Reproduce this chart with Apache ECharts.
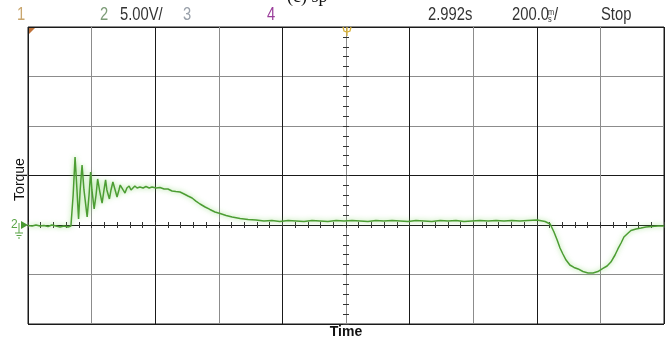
<!DOCTYPE html>
<html>
<head>
<meta charset="utf-8">
<script src="https://cdn.jsdelivr.net/npm/echarts@6/dist/echarts.min.js"></script>
<style>
html,body{margin:0;padding:0;background:#fff;}
#chart{width:672px;height:340px;}
</style>
</head>
<body>
<div id="chart"></div>
<script>
// ---- data (time in s relative to screen centre, torque channel in V) ----
const timeSec = [
  -1.000,-0.987,-0.975,-0.962,-0.950,-0.937,-0.925,-0.912,-0.899,-0.887,-0.874,-0.865,
  -0.858,-0.852,-0.846,-0.841,-0.836,-0.830,-0.824,-0.814,-0.808,-0.803,-0.799,-0.792,
  -0.786,-0.781,-0.774,-0.767,-0.761,-0.756,-0.752,-0.744,-0.739,-0.733,-0.726,-0.720,
  -0.714,-0.710,-0.701,-0.695,-0.689,-0.682,-0.676,-0.670,-0.664,-0.657,-0.648,-0.638,
  -0.629,-0.619,-0.610,-0.597,-0.585,-0.572,-0.560,-0.547,-0.535,-0.522,-0.509,-0.497,
  -0.484,-0.472,-0.459,-0.443,-0.428,-0.412,-0.396,-0.377,-0.358,-0.333,-0.308,-0.283,
  -0.258,-0.233,-0.208,-0.182,-0.157,-0.132,-0.107,-0.082,-0.057,-0.031,-0.006,0.019,
  0.044,0.069,0.094,0.119,0.145,0.170,0.195,0.220,0.245,0.270,0.296,0.321,0.346,0.371,
  0.396,0.421,0.447,0.472,0.497,0.522,0.547,0.572,0.601,0.626,0.642,0.654,0.664,0.673,
  0.682,0.692,0.704,0.717,0.730,0.745,0.761,0.777,0.792,0.808,0.821,0.833,0.846,0.855,
  0.865,0.874,0.884,0.896,0.912,0.928,0.943,0.962,0.981,1.000
];
const torqueV = [
  -0.05,-0.10,0.00,-0.10,-0.05,-0.15,0.00,-0.10,-0.20,-0.10,-0.20,-0.10,
  3.03,6.87,3.54,0.61,3.54,6.06,3.54,0.81,3.03,5.35,3.54,1.62,
  3.03,4.65,3.33,2.22,3.54,4.55,3.54,2.63,3.54,4.34,3.54,2.83,
  3.54,4.04,3.54,3.23,3.74,3.94,3.54,3.64,3.94,3.74,3.84,3.74,
  3.89,3.74,3.84,3.74,3.79,3.64,3.64,3.43,3.38,3.33,3.13,2.93,
  2.73,2.42,2.12,1.82,1.57,1.31,1.16,0.96,0.81,0.66,0.56,0.51,
  0.40,0.45,0.35,0.45,0.40,0.35,0.45,0.40,0.35,0.45,0.40,0.45,
  0.40,0.35,0.45,0.40,0.45,0.40,0.35,0.45,0.40,0.35,0.45,0.40,0.45,0.35,
  0.40,0.45,0.40,0.45,0.40,0.45,0.40,0.45,0.51,0.35,0.10,-0.71,-1.52,-2.32,
  -2.93,-3.54,-4.04,-4.29,-4.44,-4.70,-4.85,-4.85,-4.70,-4.39,-4.14,-3.74,-3.03,-2.42,
  -1.82,-1.21,-0.91,-0.56,-0.40,-0.30,-0.20,-0.15,-0.10,-0.10
];
const headerLabels = ['1', '2', '5.00V/', '3', '4', '2.992s', '200.0', 'Stop'];
const xAxisTitle = 'Time';
const yAxisTitle = 'Torque';
const channelMarker = '2';

const xGridColors = ['#1a1a1a','#8c8c8c','#1a1a1a','#8c8c8c','#1a1a1a','#8c8c8c','#1a1a1a','#8c8c8c','#1a1a1a','#8c8c8c','#1a1a1a'];
const yGridColors = ['#1a1a1a','#8c8c8c','#1a1a1a','#1a1a1a','#8c8c8c','#8c8c8c','#1a1a1a'];

const chart = echarts.init(document.getElementById('chart'), null, {renderer: 'canvas'});
const hdrFont = '"Liberation Sans",Arial,sans-serif';
const hdrText = (txt, x, color, size, top) => ({
  type: 'text', x: x, y: top == null ? 6 : top, scaleX: 0.82,
  style: {text: txt, font: (size || 18) + 'px ' + hdrFont, fill: color}
});
const tickX = (inside) => ({
  type: 'value', min: -1, max: 1, interval: 0.04, position: 'bottom',
  axisLine: {show: true, onZero: true, onZeroAxisIndex: 0, lineStyle: {color: '#1a1a1a', width: 1}},
  axisTick: {show: true, inside: inside, length: 3, lineStyle: {color: '#333', width: 1}},
  axisLabel: {show: false}, splitLine: {show: false}
});
const tickY = (inside) => ({
  type: 'value', min: -10, max: 20, interval: 1, position: 'left',
  axisLine: {show: true, onZero: true, onZeroAxisIndex: 0, lineStyle: {color: '#8c8c8c', width: 1}},
  axisTick: {show: true, inside: inside, length: 3, lineStyle: {color: '#333', width: 1}},
  axisLabel: {show: false}, splitLine: {show: false}
});

chart.setOption({
  animation: false,
  backgroundColor: '#ffffff',
  grid: {left: 28, right: 8, top: 27, bottom: 16, containLabel: false, outerBoundsMode: 'none',
         show: true, borderColor: '#1a1a1a', borderWidth: 1, backgroundColor: 'transparent'},
  xAxis: [
    {
      type: 'value', min: -1, max: 1, interval: 0.2, position: 'bottom',
      axisLine: {show: false}, axisTick: {show: false}, axisLabel: {show: false},
      splitLine: {show: true, lineStyle: {color: xGridColors, width: 1}},
      name: xAxisTitle, nameLocation: 'middle', nameGap: 1,
      nameTextStyle: {fontFamily: '"Liberation Sans",Arial,sans-serif', fontWeight: 'bold', fontSize: 14, color: '#111'}
    },
    tickX(true), tickX(false)
  ],
  yAxis: [
    {
      type: 'value', min: -10, max: 20, interval: 5, position: 'left',
      axisLine: {show: false}, axisTick: {show: false}, axisLabel: {show: false},
      splitLine: {show: true, lineStyle: {color: yGridColors, width: 1}},
      name: yAxisTitle, nameLocation: 'middle', nameGap: 1,
      nameTextStyle: {fontFamily: '"Liberation Sans",Arial,sans-serif', fontSize: 14, color: '#111', padding: [0, 8, 0, 0]}
    },
    tickY(true), tickY(false)
  ],
  series: [{
    type: 'line',
    xAxisIndex: 0, yAxisIndex: 0,
    data: timeSec.map((t, i) => [t, torqueV[i]]),
    showSymbol: false, symbol: 'none', z: 10,
    lineStyle: {color: '#4c9d33', width: 1.5, shadowBlur: 5, shadowColor: 'rgba(120,210,90,0.75)'}
  }],
  graphic: [
    {type: 'text', x: 287, y: -12, style: {text: '(c) sp', font: '18px "Liberation Serif",serif', fill: '#111'}},
    hdrText(headerLabels[0], 17, '#c9a66e'),
    hdrText(headerLabels[1], 100, '#7d9c78'),
    hdrText(headerLabels[2], 120, '#333'),
    hdrText(headerLabels[3], 183, '#9aa1aa'),
    hdrText(headerLabels[4], 267, '#9a3d9a'),
    hdrText(headerLabels[5], 428, '#333'),
    hdrText(headerLabels[6], 512, '#333'),
    hdrText('m', 548, '#333', 9, 8),
    hdrText('s', 548, '#333', 9, 15),
    hdrText('/', 554, '#333'),
    hdrText(headerLabels[7], 601, '#333'),
    // channel 1 marker (top-left)
    {type: 'polygon', shape: {points: [[29, 28], [35, 28], [29, 34]]}, style: {fill: '#c0733a'}, z: 20},
    // trigger marker (top-centre)
    {type: 'polyline', shape: {points: [[343, 27], [344, 31], [347, 32], [350, 31], [351, 27]]}, style: {stroke: '#d8b23a', lineWidth: 1.3, fill: null}, z: 20},
    {type: 'line', shape: {x1: 347, y1: 27, x2: 347, y2: 36}, style: {stroke: '#d8b23a', lineWidth: 1.3}, z: 20},
    // channel 2 ground marker
    {type: 'text', x: 11, y: 219, style: {text: channelMarker, font: '12px "Liberation Sans",sans-serif', fill: '#5aa447'}, z: 20},
    {type: 'polygon', shape: {points: [[21, 221], [28, 225], [21, 229]]}, style: {fill: '#4a9a32'}, z: 20},
    {type: 'line', shape: {x1: 19, y1: 223, x2: 19, y2: 233}, style: {stroke: '#5aa447', lineWidth: 1}, z: 20},
    {type: 'line', shape: {x1: 15, y1: 233, x2: 23, y2: 233}, style: {stroke: '#5aa447', lineWidth: 1}, z: 20},
    {type: 'line', shape: {x1: 16.5, y1: 235.5, x2: 21.5, y2: 235.5}, style: {stroke: '#5aa447', lineWidth: 1}, z: 20},
    {type: 'line', shape: {x1: 18, y1: 238, x2: 20, y2: 238}, style: {stroke: '#5aa447', lineWidth: 1}, z: 20}
  ]
});
</script>
</body>
</html>
